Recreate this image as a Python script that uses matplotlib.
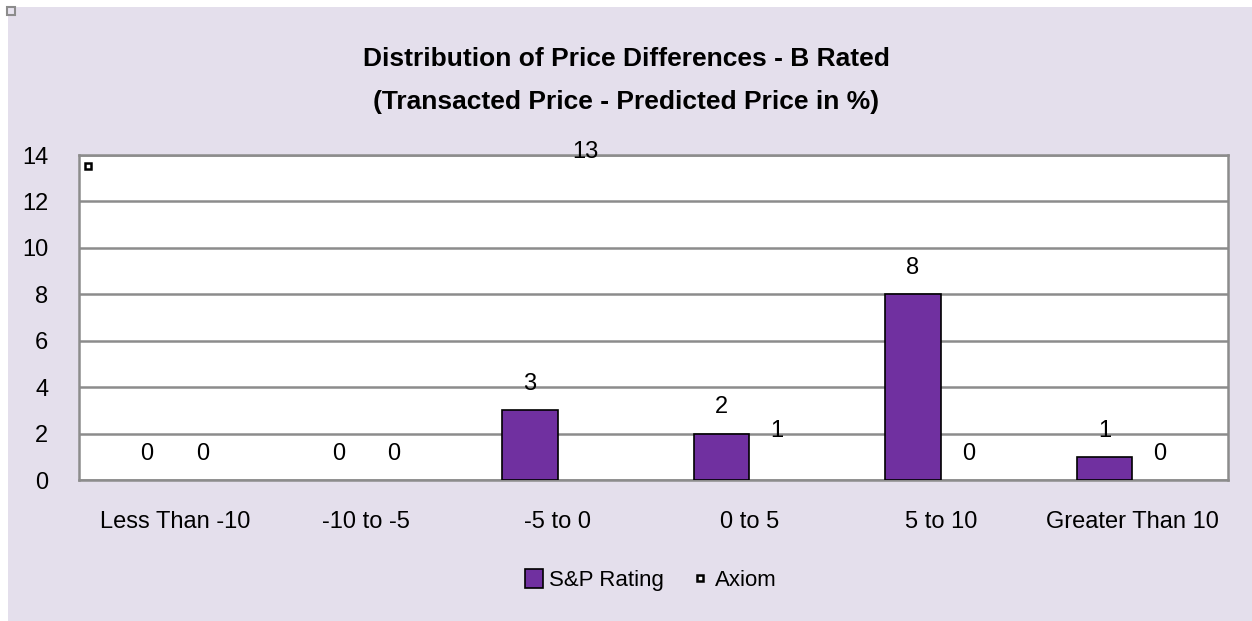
import matplotlib.pyplot as plt
from matplotlib.lines import Line2D
from matplotlib.patches import Patch, Rectangle
import numpy as np

plt.rcParams['font.family'] = ['Liberation Sans Narrow', 'Liberation Sans', 'DejaVu Sans']

categories = ['Less Than -10', '-10 to -5', '-5 to 0', '0 to 5', '5 to 10', 'Greater Than 10']
sp_rating = [0, 0, 3, 2, 8, 1]
axiom = [0, 0, 13, 1, 0, 0]

bg = '#E4DFEC'
purple = '#7030A0'
grid = '#8C8C8C'

fig = plt.figure(figsize=(12.52, 6.21), dpi=100, facecolor='white')
# chart area background, leaving a thin white strip at the top and left
fig.patches.append(Rectangle((8 / 1252, 0), 1 - 8 / 1252, 1 - 7 / 621, transform=fig.transFigure,
                             facecolor=bg, edgecolor='none', zorder=-10))

ax = fig.add_axes([0.0631, 0.227, 0.9178, 0.5234])
ax.set_facecolor('white')

x = np.arange(len(categories))
w = 0.29
b1 = ax.bar(x - w / 2, sp_rating, w, color=purple, edgecolor='black', linewidth=1.2, zorder=3)
b2 = ax.bar(x + w / 2, axiom, w, color='none', edgecolor='none', zorder=3)
for r, v in zip(b1, sp_rating):
    if v == 0:
        r.set_linewidth(0)

for bars, vals in ((b1, sp_rating), (b2, axiom)):
    for r, v in zip(bars, vals):
        ax.annotate(str(v), (r.get_x() + r.get_width() / 2, v), xytext=(0, 11),
                    textcoords='offset points', ha='center', va='bottom',
                    fontsize=17, annotation_clip=False)

ax.set_xlim(-0.5, len(categories) - 0.5)
ax.set_ylim(0, 14)
ax.set_yticks(range(0, 15, 2))
ax.yaxis.grid(True, color=grid, linewidth=1.8, zorder=0)
ax.set_axisbelow(True)
ax.tick_params(axis='both', length=0, labelsize=17)
ax.tick_params(axis='x', pad=22)
ax.tick_params(axis='y', pad=22)
ax.set_xticks(x)
ax.set_xticklabels(categories)
for s in ax.spines.values():
    s.set_color(grid)
    s.set_linewidth(1.8)

# small markers seen in the original image
ax.plot([0.008], [0.965], transform=ax.transAxes, marker='s', markersize=5,
        markerfacecolor='white', markeredgecolor='black', markeredgewidth=1.8, clip_on=False)
fig.lines.append(Line2D([11 / 1252], [1 - 11 / 621], transform=fig.transFigure, marker='s',
                        markersize=5.5, markerfacecolor='#E8E4F0', markeredgecolor='#8C8C8C',
                        markeredgewidth=1.5))

fig.text(0.5, 0.905, 'Distribution of Price Differences - B Rated', ha='center', va='center',
         fontsize=19, fontweight='bold')
fig.text(0.5, 0.836, '(Transacted Price - Predicted Price in %)', ha='center', va='center',
         fontsize=19, fontweight='bold')

handles = [Patch(facecolor=purple, edgecolor='black', linewidth=1.2),
           Line2D([], [], linestyle='none', marker='s', markersize=5, markerfacecolor='white',
                  markeredgecolor='black', markeredgewidth=1.8)]
fig.legend(handles, ['S&P Rating', 'Axiom'], loc='center', bbox_to_anchor=(0.52, 0.066),
           ncol=2, frameon=False, fontsize=16, handlelength=0.8, handleheight=0.9,
           handletextpad=0.3, columnspacing=1.2)

fig.savefig('out.png', dpi=100, facecolor='white')
